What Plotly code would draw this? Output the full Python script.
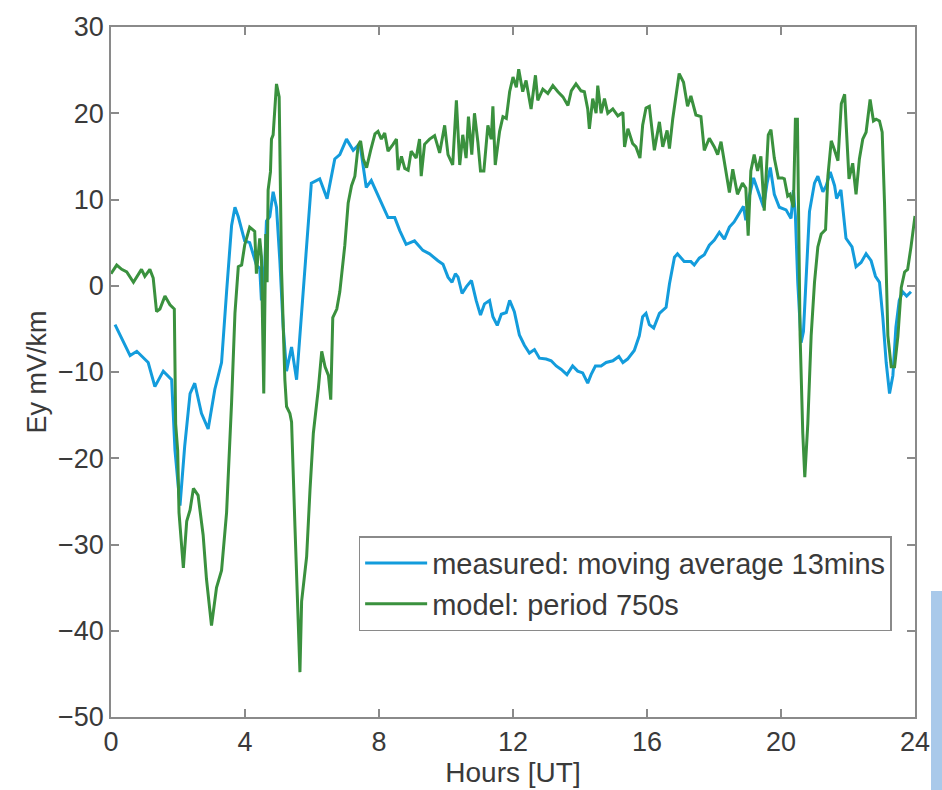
import plotly.graph_objects as go

# measured: moving average 13mins
meas_h = [0.12, 0.32, 0.57, 0.77, 1.11, 1.31, 1.56, 1.81, 1.91, 2.06, 2.2, 2.36, 2.5, 2.7, 2.9, 3.1, 3.3, 3.45, 3.6, 3.7,
          3.8, 3.99, 4.14, 4.34, 4.44, 4.49, 4.59, 4.64, 4.74, 4.84, 4.94, 5.04, 5.14, 5.24, 5.39, 5.54, 5.69, 5.83, 5.98, 6.23,
          6.45, 6.68, 6.83, 7.03, 7.23, 7.43, 7.62, 7.77, 7.97, 8.07, 8.27, 8.47, 8.62, 8.81, 9.06, 9.31, 9.51, 9.76, 9.91, 10.06,
          10.18, 10.28, 10.36, 10.48, 10.61, 10.76, 10.9, 11.03, 11.15, 11.3, 11.4, 11.53, 11.65, 11.8, 11.9, 12.04, 12.19, 12.34, 12.49, 12.64,
          12.79, 12.99, 13.14, 13.29, 13.44, 13.61, 13.78, 13.93, 14.08, 14.23, 14.33, 14.46, 14.63, 14.78, 14.98, 15.16, 15.28, 15.42, 15.62, 15.77,
          15.87, 15.97, 16.07, 16.2, 16.37, 16.57, 16.67, 16.82, 16.91, 17.11, 17.31, 17.41, 17.56, 17.71, 17.86, 18.01, 18.16, 18.31, 18.46, 18.6,
          18.75, 18.88, 18.95, 19.05, 19.18, 19.35, 19.48, 19.58, 19.68, 19.8, 19.95, 20.15, 20.3, 20.37, 20.43, 20.5, 20.6, 20.67, 20.75, 20.85,
          21.0, 21.1, 21.25, 21.35, 21.47, 21.6, 21.66, 21.79, 21.94, 22.12, 22.24, 22.39, 22.54, 22.69, 22.82, 22.94, 23.04, 23.14, 23.24, 23.34,
          23.43, 23.53, 23.63, 23.75, 23.88]
meas_v = [-4.5, -6.05, -8.1, -7.6, -8.9, -11.7, -9.9, -10.9, -19.1, -25.5, -18.6, -12.5, -11.3, -14.8, -16.6, -12.0, -8.9, -0.7, 7.0, 9.1,
          8.0, 5.2, 5.0, 2.4, 2.0, -1.7, 2.4, 7.5, 8.0, 10.9, 9.1, 2.9, -4.8, -9.9, -7.1, -10.9, -3.2, 4.5, 11.9, 12.4,
          10.1, 14.7, 15.2, 17.0, 15.7, 16.5, 11.4, 12.2, 10.5, 9.8, 7.9, 7.9, 6.4, 4.8, 5.2, 4.1, 3.7, 2.9, 2.5, 1.0,
          0.4, 1.4, 1.0, -0.9, -0.1, 0.6, -1.7, -3.4, -2.1, -1.7, -3.6, -4.6, -3.3, -3.1, -1.7, -3.0, -5.7, -6.9, -7.8, -7.4,
          -8.4, -8.5, -8.7, -9.3, -9.7, -10.3, -9.3, -9.9, -10.1, -11.3, -10.3, -9.3, -9.3, -8.9, -8.7, -8.2, -8.9, -8.5, -7.5, -5.8,
          -3.6, -3.2, -4.5, -4.9, -3.2, -2.5, 0.2, 3.3, 3.7, 2.8, 2.8, 2.4, 3.2, 3.6, 4.7, 5.3, 6.2, 5.4, 6.8, 7.4,
          8.3, 9.2, 7.6, 10.3, 12.5, 10.6, 9.1, 11.8, 13.7, 10.6, 9.1, 8.8, 7.8, 11.1, 8.1, 0.4, -6.6, -5.3, 1.4, 8.6,
          11.9, 12.7, 10.9, 11.6, 13.2, 11.6, 10.1, 11.1, 5.5, 4.5, 2.2, 2.7, 3.7, 2.9, 1.1, 0.4, -3.7, -8.9, -12.5, -10.4,
          -4.8, -1.7, -0.7, -1.2, -0.7]

# model: period 750s
model_h = [0.0, 0.17, 0.32, 0.47, 0.67, 0.91, 1.01, 1.16, 1.26, 1.36, 1.46, 1.61, 1.76, 1.89, 1.93, 1.99, 2.03, 2.16, 2.26, 2.36,
           2.46, 2.6, 2.75, 2.85, 3.0, 3.15, 3.3, 3.45, 3.6, 3.7, 3.8, 3.9, 3.99, 4.14, 4.29, 4.34, 4.44, 4.49, 4.56, 4.62,
           4.66, 4.69, 4.76, 4.79, 4.84, 4.94, 5.02, 5.09, 5.19, 5.24, 5.34, 5.39, 5.49, 5.56, 5.64, 5.69, 5.76, 5.84, 5.94, 6.04,
           6.19, 6.29, 6.39, 6.49, 6.56, 6.62, 6.74, 6.83, 6.98, 7.08, 7.18, 7.28, 7.38, 7.45, 7.53, 7.63, 7.75, 7.88, 7.97, 8.07,
           8.17, 8.27, 8.42, 8.52, 8.57, 8.67, 8.77, 8.87, 8.96, 9.11, 9.21, 9.26, 9.36, 9.51, 9.66, 9.81, 9.96, 10.06, 10.2, 10.31,
           10.41, 10.5, 10.6, 10.67, 10.77, 10.85, 10.95, 11.03, 11.13, 11.25, 11.35, 11.4, 11.47, 11.6, 11.7, 11.8, 11.9, 12.0, 12.1, 12.17,
           12.29, 12.39, 12.54, 12.67, 12.74, 12.89, 13.04, 13.19, 13.34, 13.49, 13.64, 13.74, 13.88, 14.03, 14.13, 14.23, 14.28, 14.38, 14.48, 14.53,
           14.63, 14.73, 14.83, 14.98, 15.13, 15.28, 15.33, 15.43, 15.57, 15.67, 15.79, 15.87, 15.97, 16.07, 16.22, 16.37, 16.47, 16.6, 16.67, 16.77,
           16.96, 17.09, 17.21, 17.31, 17.46, 17.61, 17.71, 17.86, 18.01, 18.11, 18.21, 18.36, 18.46, 18.56, 18.7, 18.85, 18.95, 19.02, 19.1, 19.2,
           19.3, 19.4, 19.5, 19.62, 19.7, 19.8, 19.92, 20.04, 20.1, 20.2, 20.27, 20.37, 20.43, 20.49, 20.57, 20.65, 20.71, 20.8, 20.9, 21.0,
           21.1, 21.2, 21.33, 21.4, 21.5, 21.6, 21.7, 21.8, 21.9, 21.95, 22.03, 22.14, 22.24, 22.34, 22.44, 22.54, 22.66, 22.76, 22.84, 22.94,
           23.02, 23.09, 23.19, 23.29, 23.39, 23.49, 23.59, 23.69, 23.78, 23.88, 24.0]
model_v = [1.4, 2.4, 1.9, 1.6, 0.4, 1.9, 1.1, 1.9, 0.9, -3.0, -2.7, -1.2, -2.2, -2.7, -16.0, -19.1, -26.3, -32.7, -27.3, -26.0,
           -23.5, -24.3, -28.9, -34.0, -39.4, -35.0, -33.0, -26.3, -13.5, -3.2, 2.2, 2.4, 4.7, 6.8, 6.3, 1.4, 5.5, 3.4, -12.5, 6.0,
           0.4, 11.1, 13.2, 17.0, 17.5, 23.4, 21.9, 1.9, -10.9, -14.0, -14.8, -15.8, -27.8, -36.6, -44.8, -36.6, -34.0, -31.4, -23.7, -17.1,
           -11.9, -7.6, -9.4, -10.4, -13.2, -3.7, -2.7, -0.7, 4.7, 9.6, 11.6, 12.7, 16.3, 16.8, 14.7, 13.7, 15.7, 17.6, 17.9, 17.0,
           17.7, 15.6, 16.4, 17.0, 13.4, 15.0, 13.6, 13.4, 15.6, 14.8, 17.0, 12.7, 16.4, 17.0, 17.4, 15.4, 18.6, 15.2, 14.0, 21.5,
           14.0, 17.5, 14.8, 19.6, 15.2, 20.0, 16.7, 13.3, 13.3, 18.6, 17.0, 20.8, 14.0, 17.9, 19.6, 19.4, 22.5, 24.2, 23.0, 25.1,
           22.5, 23.8, 20.5, 24.4, 21.5, 22.8, 22.3, 23.2, 22.5, 21.9, 20.9, 22.6, 23.4, 22.6, 22.5, 20.5, 18.2, 21.7, 20.0, 23.2,
           20.0, 21.7, 20.0, 20.5, 19.7, 20.1, 16.1, 18.2, 16.5, 16.1, 14.8, 18.6, 20.6, 20.8, 15.7, 19.0, 16.1, 18.0, 15.9, 19.4,
           24.6, 23.6, 20.8, 22.0, 19.8, 19.6, 15.7, 17.1, 16.1, 15.2, 16.7, 12.9, 10.8, 13.5, 10.6, 11.9, 11.3, 5.8, 13.3, 15.2,
           13.3, 15.0, 8.7, 17.5, 18.1, 14.8, 12.5, 12.5, 12.4, 10.4, 10.6, 9.1, 19.3, 19.3, -5.8, -17.1, -22.2, -16.0, -5.8, 0.4,
           4.5, 6.0, 6.5, 12.7, 16.8, 15.7, 14.5, 21.1, 22.2, 18.3, 12.4, 14.2, 10.6, 14.7, 17.0, 17.8, 21.6, 19.1, 19.3, 19.1,
           17.8, 9.6, -5.8, -9.4, -9.4, -5.8, -0.2, 1.6, 1.9, 4.5, 8.1]

x_ticks = [0, 4, 8, 12, 16, 20, 24]
y_ticks = [-50, -40, -30, -20, -10, 0, 10, 20, 30]

FONT = "Liberation Sans, Arial, Helvetica, sans-serif"
TXT = "#3a3a3a"
AX = "#8a8a8a"

fig = go.Figure()
fig.add_trace(go.Scatter(x=meas_h, y=meas_v, mode="lines",
                         name="measured: moving average 13mins",
                         line=dict(color="#139cdc", width=3)))
fig.add_trace(go.Scatter(x=model_h, y=model_v, mode="lines",
                         name="model: period 750s",
                         line=dict(color="#3a913e", width=3)))

axis_common = dict(showline=True, linecolor=AX, linewidth=1.5, mirror="ticks",
                   ticks="inside", ticklen=8, tickwidth=1.5, tickcolor=AX,
                   showgrid=False, zeroline=False,
                   tickfont=dict(family=FONT, size=27, color=TXT))

fig.update_xaxes(range=[0, 24], tickvals=x_ticks,
                 title=dict(text="Hours [UT]", font=dict(family=FONT, size=28, color=TXT), standoff=0),
                 **axis_common)
fig.update_yaxes(range=[-50, 30], tickvals=y_ticks,
                 title=dict(text="Ey mV/km", font=dict(family=FONT, size=27, color=TXT), standoff=4),
                 **axis_common)

fig.update_layout(
    width=942, height=790,
    margin=dict(l=111, r=26, t=21, b=73),
    paper_bgcolor="white", plot_bgcolor="white",
    font=dict(family=FONT, color=TXT),
    legend=dict(x=0.308, y=0.262, xanchor="left", yanchor="top",
                bgcolor="white", bordercolor=AX, borderwidth=1.5,
                font=dict(family=FONT, size=29, color=TXT),
                tracegroupgap=0, itemwidth=62),
    shapes=[dict(type="rect", xref="paper", yref="paper",
                 x0=1.0199, x1=1.04, y0=-0.11, y1=0.1825,
                 line=dict(width=0), fillcolor="#a9c9ea", layer="below")],
)

fig.write_html("out.html")
